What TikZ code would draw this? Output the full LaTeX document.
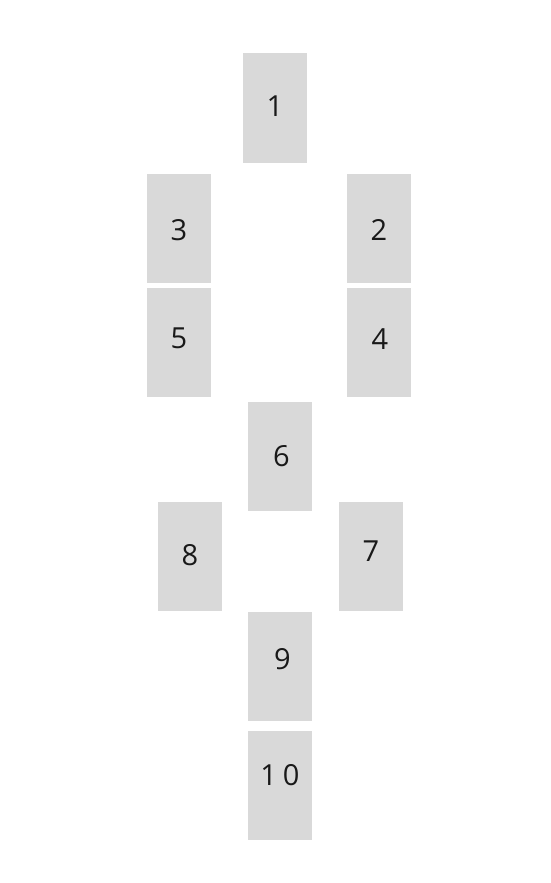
\documentclass[tikz,border=0pt]{standalone}
\usepackage{fontspec}
\setmainfont{Open Sans}
\definecolor{cardgray}{HTML}{D9D9D9}
\begin{document}
\begin{tikzpicture}[x=1pt,y=-1pt,
  card/.style={fill=cardgray,draw=none,minimum width=64pt,minimum height=109pt,inner sep=0pt},
  num/.style={font=\fontsize{29}{30}\selectfont,inner sep=0pt,text=black!90}]
\useasboundingbox (0,0) rectangle (550,883);
\node[card,label={[num,yshift=1.5pt]center:1}] (c1) at (275,108) {};
\node[card,label={[num,yshift=-2pt]center:2}] (c2) at (379,228) {};
\node[card,label={[num,yshift=-2pt]center:3}] (c3) at (179,228) {};
\node[card,label={[num,yshift=3pt,xshift=1pt]center:4}] (c4) at (379,342.5) {};
\node[card,label={[num,yshift=4pt]center:5}] (c5) at (179,342.5) {};
\node[card,label={[num,xshift=1.5pt]center:6}] (c6) at (280,456.5) {};
\node[card,label={[num,yshift=5pt]center:7}] (c7) at (371,556.5) {};
\node[card,label={[num,yshift=1.5pt]center:8}] (c8) at (190,556.5) {};
\node[card,label={[num,yshift=7pt,xshift=2.5pt]center:9}] (c9) at (280,666) {};
\node[card,label={[num,yshift=10pt]center:1\hspace{6pt}0}] (c10) at (280,785) {};
\end{tikzpicture}
\end{document}
